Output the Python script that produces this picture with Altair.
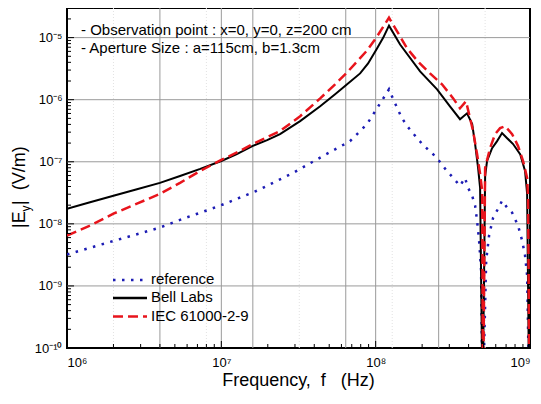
import altair as alt
import pandas as pd

# ---------------- data ----------------
REF_F = [1.0e6, 2.0e6, 4.0e6, 5.65e6, 7.3e6, 9.8e6, 1.70e7, 2.92e7, 4.56e7, 6.82e7, 8.79e7,
         1.04e8, 1.22e8, 1.30e8, 1.48e8, 1.62e8, 1.83e8, 2.03e8, 2.32e8, 2.58e8, 2.86e8,
         3.18e8, 3.52e8, 3.79e8, 3.97e8, 4.22e8, 4.41e8, 4.54e8, 4.68e8, 4.82e8, 4.93e8,
         5.20e8, 5.43e8, 5.77e8, 6.21e8, 6.59e8, 7.11e8, 7.66e8, 8.37e8, 8.89e8, 9.29e8,
         9.58e8, 9.93e8]
REF_E = [3.21e-9, 5.3e-9, 8.7e-9, 1.21e-8, 1.51e-8, 1.96e-8, 3.41e-8, 6.62e-8, 1.24e-7,
         2.15e-7, 4.04e-7, 7.83e-7, 1.47e-6, 1.01e-6, 5.04e-7, 3.61e-7, 2.50e-7, 1.86e-7,
         1.38e-7, 1.03e-7, 7.39e-8, 5.50e-8, 4.09e-8, 5.50e-8, 3.80e-8, 2.83e-8, 1.96e-8,
         1.12e-8, 5.38e-9, 1.78e-9, 1e-11, 2.57e-9, 6.47e-9, 1.26e-8, 1.75e-8, 2.36e-8,
         1.82e-8, 1.51e-8, 9.35e-9, 5.38e-9, 3.09e-9, 1.48e-9, 1e-11]

BELL_F = [1.0e6, 1.41e6, 2.0e6, 2.84e6, 4.0e6, 5.4e6, 7.3e6, 1.0e7, 1.26e7, 1.6e7, 1.98e7,
          2.4e7, 3.24e7, 4.37e7, 5.46e7, 6.53e7, 7.93e7, 8.93e7, 1.02e8, 1.12e8, 1.22e8,
          1.44e8, 1.94e8, 2.50e8, 3.03e8, 3.52e8, 3.91e8, 4.22e8, 4.41e8, 4.61e8, 4.75e8,
          4.93e8, 5.12e8, 5.27e8, 5.68e8, 6.12e8, 6.59e8, 7.11e8, 7.77e8, 8.63e8, 9.29e8,
          9.58e8, 9.90e8]
BELL_E = [1.75e-8, 2.23e-8, 2.83e-8, 3.60e-8, 4.57e-8, 5.9e-8, 7.67e-8, 1.03e-7, 1.33e-7,
          1.80e-7, 2.23e-7, 2.79e-7, 4.51e-7, 7.83e-7, 1.22e-6, 1.77e-6, 2.65e-6, 3.83e-6,
          6.67e-6, 1.0e-5, 1.56e-5, 7.73e-6, 2.85e-6, 1.47e-6, 7.83e-7, 4.85e-7, 6.05e-7,
          4.04e-7, 1.93e-7, 7.96e-8, 3.80e-8, 1e-11, 5.91e-8, 1.03e-7, 1.66e-7, 2.15e-7,
          2.90e-7, 2.40e-7, 1.93e-7, 1.33e-7, 7.13e-8, 3.05e-8, 1e-11]

IEC_F = [1.0e6, 1.41e6, 2.0e6, 2.84e6, 4.0e6, 5.4e6, 7.3e6, 1.0e7, 1.32e7, 1.6e7, 1.98e7,
         2.4e7, 3.24e7, 4.37e7, 5.46e7, 6.53e7, 8.79e7, 1.02e8, 1.12e8, 1.22e8, 1.38e8,
         1.60e8, 1.88e8, 2.25e8, 2.69e8, 3.18e8, 3.52e8, 3.85e8, 4.28e8, 4.54e8, 4.75e8,
         4.90e8, 4.96e8, 5.12e8, 5.51e8, 5.94e8, 6.40e8, 6.90e8, 7.66e8, 8.37e8, 9.02e8,
         9.58e8, 9.72e8, 9.93e8]
IEC_E = [6.47e-9, 9.35e-9, 1.46e-8, 2.11e-8, 3.05e-8, 4.57e-8, 7.13e-8, 1.07e-7, 1.49e-7,
         1.93e-7, 2.49e-7, 3.12e-7, 5.42e-7, 1.05e-6, 1.77e-6, 2.75e-6, 6.19e-6, 1.04e-5,
         1.50e-5, 2.09e-5, 1.25e-5, 6.67e-6, 4.12e-6, 2.65e-6, 1.77e-6, 1.05e-6, 7.27e-7,
         9.42e-7, 3.12e-7, 1.33e-7, 6.37e-8, 3.41e-8, 1e-11, 7.96e-8, 1.66e-7, 2.79e-7,
         3.48e-7, 3.75e-7, 2.79e-7, 1.79e-7, 1.03e-7, 5.50e-8, 2.63e-8, 1e-11]

X_LABEL_VALUES = [1e6, 1e7, 1e8, 1e9]
Y_LABEL_VALUES = [1e-10, 1e-9, 1e-8, 1e-7, 1e-6, 1e-5]
GRID_X_SOLID = [4e6, 1e7, 1.6e7, 6.4e7, 1e8, 2.56e8]
GRID_X_FAINT = [2e6, 8e6, 3.2e7, 1.28e8, 5.12e8]
GRID_Y = [1e-9, 1e-8, 1e-7, 1e-6, 1e-5]

X_DECADES = [1e6, 1e7, 1e8]
Y_DECADES = [1e-10, 1e-9, 1e-8, 1e-7, 1e-6, 1e-5]
MULTS = [2, 3, 4, 5, 6, 7, 8, 9]

LEGEND = ["reference", "Bell Labs", "IEC 61000-2-9"]
NOTES = ["- Observation point : x=0, y=0, z=200 cm", "- Aperture Size : a=115cm, b=1.3cm"]

# ---------------- chart ----------------
FONT = "Liberation Sans"
W, H = 463, 340
BLUE, RED = "#1c1cb4", "#e8141c"

xs = alt.Scale(type="log", domain=[1e6, 1e9], nice=False)
ys = alt.Scale(type="log", domain=[1e-10, 3e-5], nice=False)

x_label_expr = ("datum.value < 3e6 ? '10⁶' : datum.value < 3e7 ? '10⁷' : "
                "datum.value < 3e8 ? '10⁸' : '10⁹'")
y_label_expr = ("datum.value < 3e-10 ? '10⁻¹⁰' : datum.value < 3e-9 ? '10⁻⁹' : "
                "datum.value < 3e-8 ? '10⁻⁸' : datum.value < 3e-7 ? '10⁻⁷' : "
                "datum.value < 3e-6 ? '10⁻⁶' : '10⁻⁵'")

X_ENC = alt.X("f:Q", scale=xs, axis=alt.Axis(values=X_LABEL_VALUES, labelExpr=x_label_expr,
                                             title=None, grid=False, ticks=False, tickSize=0,
                                             domain=False, labelPadding=8, labelFontSize=13,
                                             labelFont=FONT, labelColor="black"))
Y_ENC = alt.Y("E:Q", scale=ys, axis=alt.Axis(values=Y_LABEL_VALUES, labelExpr=y_label_expr,
                                             title=None, grid=False, ticks=False, tickSize=0,
                                             domain=False, labelPadding=5, labelFontSize=13,
                                             labelFont=FONT, labelColor="black"))

df_ref = pd.DataFrame({"f": REF_F, "E": REF_E})
df_bell = pd.DataFrame({"f": BELL_F, "E": BELL_E})
df_iec = pd.DataFrame({"f": IEC_F, "E": IEC_E})

grid_x = alt.Chart(pd.DataFrame({"f": GRID_X_SOLID})).mark_rule(
    color="#9a9a9a", strokeWidth=1).encode(x=X_ENC)
grid_xf = alt.Chart(pd.DataFrame({"f": GRID_X_FAINT})).mark_rule(
    color="#e2e2e2", strokeWidth=1, strokeDash=[1, 2]).encode(x=X_ENC)
grid_y = alt.Chart(pd.DataFrame({"E": GRID_Y})).mark_rule(
    color="#9a9a9a", strokeWidth=1).encode(y=Y_ENC)

line_ref = alt.Chart(df_ref).mark_line(color=BLUE, strokeWidth=2.5, strokeDash=[2.5, 6.5],
                                       clip=True).encode(x=X_ENC, y=Y_ENC, order="f:Q")
line_bell = alt.Chart(df_bell).mark_line(color="black", strokeWidth=2,
                                         clip=True).encode(x=X_ENC, y=Y_ENC, order="f:Q")
line_iec = alt.Chart(df_iec).mark_line(color=RED, strokeWidth=2.5, strokeDash=[10, 5],
                                       clip=True).encode(x=X_ENC, y=Y_ENC, order="f:Q")

# axis ticks pointing inward
x_minor = [m * d for d in X_DECADES for m in MULTS]
y_minor = [m * d for d in Y_DECADES for m in MULTS if m * d <= 3e-5]
tick_x_major = alt.Chart(pd.DataFrame({"f": X_DECADES})).mark_rule(
    color="black", strokeWidth=1).encode(x=X_ENC, y=alt.value(H), y2=alt.value(H - 7))
tick_x_minor = alt.Chart(pd.DataFrame({"f": x_minor})).mark_rule(
    color="black", strokeWidth=1).encode(x=X_ENC, y=alt.value(H), y2=alt.value(H - 4))
tick_y_major = alt.Chart(pd.DataFrame({"E": Y_DECADES})).mark_rule(
    color="black", strokeWidth=1).encode(y=Y_ENC, x=alt.value(0), x2=alt.value(7))
tick_y_minor = alt.Chart(pd.DataFrame({"E": y_minor})).mark_rule(
    color="black", strokeWidth=1).encode(y=Y_ENC, x=alt.value(0), x2=alt.value(4))

# annotation text
notes = [
    alt.Chart(pd.DataFrame({"t": [NOTES[i]]})).mark_text(
        align="left", baseline="middle", font=FONT, fontSize=15, color="black").encode(
        text="t:N", x=alt.value(14), y=alt.value(22 + 18 * i))
    for i in range(2)
]

# legend
leg_rows = [272, 290, 308.5]
leg_styles = [dict(color=BLUE, strokeWidth=2.5, strokeDash=[2.5, 6.5]),
              dict(color="black", strokeWidth=2.5),
              dict(color=RED, strokeWidth=2.5, strokeDash=[10, 5])]
legend = []
for i in range(3):
    legend.append(alt.Chart(pd.DataFrame({"t": [LEGEND[i]]})).mark_rule(**leg_styles[i]).encode(
        x=alt.value(46), x2=alt.value(80), y=alt.value(leg_rows[i])))
    legend.append(alt.Chart(pd.DataFrame({"t": [LEGEND[i]]})).mark_text(
        align="left", baseline="middle", font=FONT, fontSize=15, color="black").encode(
        text="t:N", x=alt.value(84), y=alt.value(leg_rows[i] - 1)))

# axis titles
NB = "\u00a0"
x_title = alt.Chart(pd.DataFrame({"t": ["Frequency," + NB * 2 + "f" + NB * 3 + "(Hz)"]})).mark_text(
    align="center", baseline="middle", font=FONT, fontSize=18, color="black").encode(
    text="t:N", x=alt.value(W / 2), y=alt.value(373))
yt1 = alt.Chart(pd.DataFrame({"t": ["|E"]})).mark_text(
    align="left", baseline="middle", font=FONT, fontSize=18, color="black", angle=270).encode(
    text="t:N", x=alt.value(-47), y=alt.value(220))
yt2 = alt.Chart(pd.DataFrame({"t": ["y"]})).mark_text(
    align="left", baseline="middle", font=FONT, fontSize=12, color="black", angle=270).encode(
    text="t:N", x=alt.value(-41), y=alt.value(203.5))
yt3 = alt.Chart(pd.DataFrame({"t": ["|" + NB * 2 + "(V/m)"]})).mark_text(
    align="left", baseline="middle", font=FONT, fontSize=18, color="black", angle=270).encode(
    text="t:N", x=alt.value(-47), y=alt.value(197))

chart = alt.layer(
    grid_xf, grid_x, grid_y, line_ref, line_bell, line_iec,
    tick_x_major, tick_x_minor, tick_y_major, tick_y_minor,
    *notes, *legend, x_title, yt1, yt2, yt3
).properties(
    width=W, height=H, autosize="none",
    padding={"left": 59, "top": 0, "right": 3, "bottom": 48},
    background="white",
).configure_view(stroke="black", strokeWidth=2)

chart.save("out.html", embed_options={"renderer": "svg", "actions": False})
